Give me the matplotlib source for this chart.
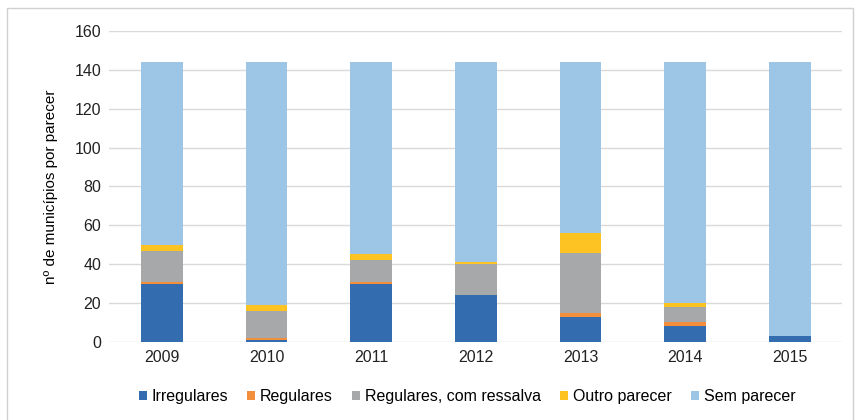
import matplotlib.pyplot as plt
import numpy as np
from matplotlib.patches import Rectangle

plt.rcParams['font.family'] = ['Liberation Sans', 'DejaVu Sans']

anos = ['2009', '2010', '2011', '2012', '2013', '2014', '2015']
irregulares = [30, 1, 30, 24, 13, 8, 3]
regulares = [1, 1, 1, 0, 2, 2, 0]
com_ressalva = [16, 14, 11, 16, 31, 8, 0]
outro_parecer = [3, 3, 3, 1, 10, 2, 0]
sem_parecer = [94, 125, 99, 103, 88, 124, 141]

series = [
    ('Irregulares', irregulares, '#336caf'),
    ('Regulares', regulares, '#f28e3c'),
    ('Regulares, com ressalva', com_ressalva, '#a6a8a9'),
    ('Outro parecer', outro_parecer, '#fdc323'),
    ('Sem parecer', sem_parecer, '#9dc5e5'),
]

fig = plt.figure(figsize=(8.55, 4.2), dpi=100)
ax = fig.add_axes([0.128, 0.186, 0.857, 0.740])

x = np.arange(len(anos))
base = np.zeros(len(anos))
for nome, vals, cor in series:
    ax.bar(x, vals, 0.4, bottom=base, color=cor, label=nome, zorder=3)
    base += np.array(vals)

ax.set_ylim(0, 160)
ax.set_yticks(range(0, 161, 20))
ax.set_xlim(-0.5, len(anos) - 0.5)
ax.set_xticks(x)
ax.set_xticklabels(anos)
ax.grid(axis='y', color='#d9d9d9', linewidth=1, zorder=0)
for s in ax.spines.values():
    s.set_visible(False)
ax.tick_params(length=0, labelsize=11.5, colors='#222222', pad=6)
ax.set_ylabel('nº de municípios por parecer', fontsize=11, labelpad=12)

ax.legend(loc='upper center', bbox_to_anchor=(0.488, -0.105), ncol=5, frameon=False,
          fontsize=11.5, handlelength=0.5, handleheight=0.5, handletextpad=0.3,
          columnspacing=1.2)

fig.patches.append(Rectangle((0.008, -0.01), 0.99, 0.99, transform=fig.transFigure,
                             fill=False, edgecolor='#d0d0d0', linewidth=1))

fig.savefig('out.png', dpi=100)
